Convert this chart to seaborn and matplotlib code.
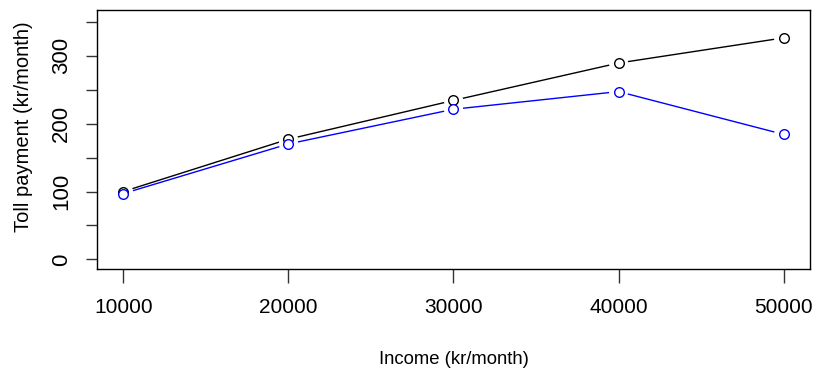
import matplotlib
matplotlib.use("Agg")
import matplotlib.pyplot as plt
import seaborn as sns
import pandas as pd

# Monthly toll payment by income level, two series
income = [10000, 20000, 30000, 40000, 50000]
toll_black = [100, 177, 234, 289, 326]
toll_blue = [97, 170, 221, 247, 184]
y_ticks = [0, 50, 100, 150, 200, 250, 300, 350]
y_tick_labels = ["0", "", "100", "", "200", "", "300", ""]
x_ticks = [10000, 20000, 30000, 40000, 50000]
x_tick_labels = ["10000", "20000", "30000", "40000", "50000"]

sns.set_style("white")
plt.rcParams["font.family"] = ["Liberation Sans", "DejaVu Sans"]
plt.rcParams["text.color"] = "black"

W, H = 815, 370
fig = plt.figure(figsize=(W / 100, H / 100), dpi=100)
ax = fig.add_axes([97 / W, 1 - 269 / H, 713 / W, 259 / H])

series = [("black", toll_black), ("blue", toll_blue)]

# connecting lines
for color, vals in series:
    df = pd.DataFrame({"income": income, "toll": vals})
    sns.lineplot(data=df, x="income", y="toll", color=color, lw=1.0,
                 ax=ax, zorder=2, legend=False)

# white halos so line segments stop short of the points
for color, vals in series:
    df = pd.DataFrame({"income": income, "toll": vals})
    sns.scatterplot(data=df, x="income", y="toll", color="white", s=190,
                    edgecolor="none", linewidth=0, ax=ax, zorder=3, legend=False)

# open circle markers
for color, vals in series:
    df = pd.DataFrame({"income": income, "toll": vals})
    sns.scatterplot(data=df, x="income", y="toll", color="white", s=48,
                    edgecolor=color, linewidth=1.0, ax=ax, zorder=4, legend=False)

ax.set_xlim(8400, 51600)
ax.set_ylim(-14, 367)

ax.set_xticks(x_ticks)
ax.set_xticklabels(x_tick_labels)
ax.set_yticks(y_ticks)
ax.set_yticklabels(y_tick_labels)

ax.tick_params(axis="both", which="major", direction="out", width=1.0,
               color="#333333", labelcolor="black", bottom=True, left=True)
ax.tick_params(axis="x", length=10, pad=11, labelsize=15)
ax.tick_params(axis="y", length=8, pad=10, labelsize=16)
for lab in ax.get_yticklabels():
    lab.set_rotation(90)
    lab.set_va("center")

for sp in ax.spines.values():
    sp.set_color("black")
    sp.set_linewidth(1.0)

ax.set_xlabel("Income (kr/month)", fontsize=13.3, color="black")
ax.set_ylabel("Toll payment (kr/month)", fontsize=14.5, color="black")
ax.xaxis.set_label_coords(0.5, (269 - 359) / 259)
ax.xaxis.label.set_va("center")
ax.yaxis.set_label_coords((23 - 97) / 713, (269 - 127) / 259)
ax.yaxis.label.set_va("center")

fig.savefig("out.png", dpi=100)
